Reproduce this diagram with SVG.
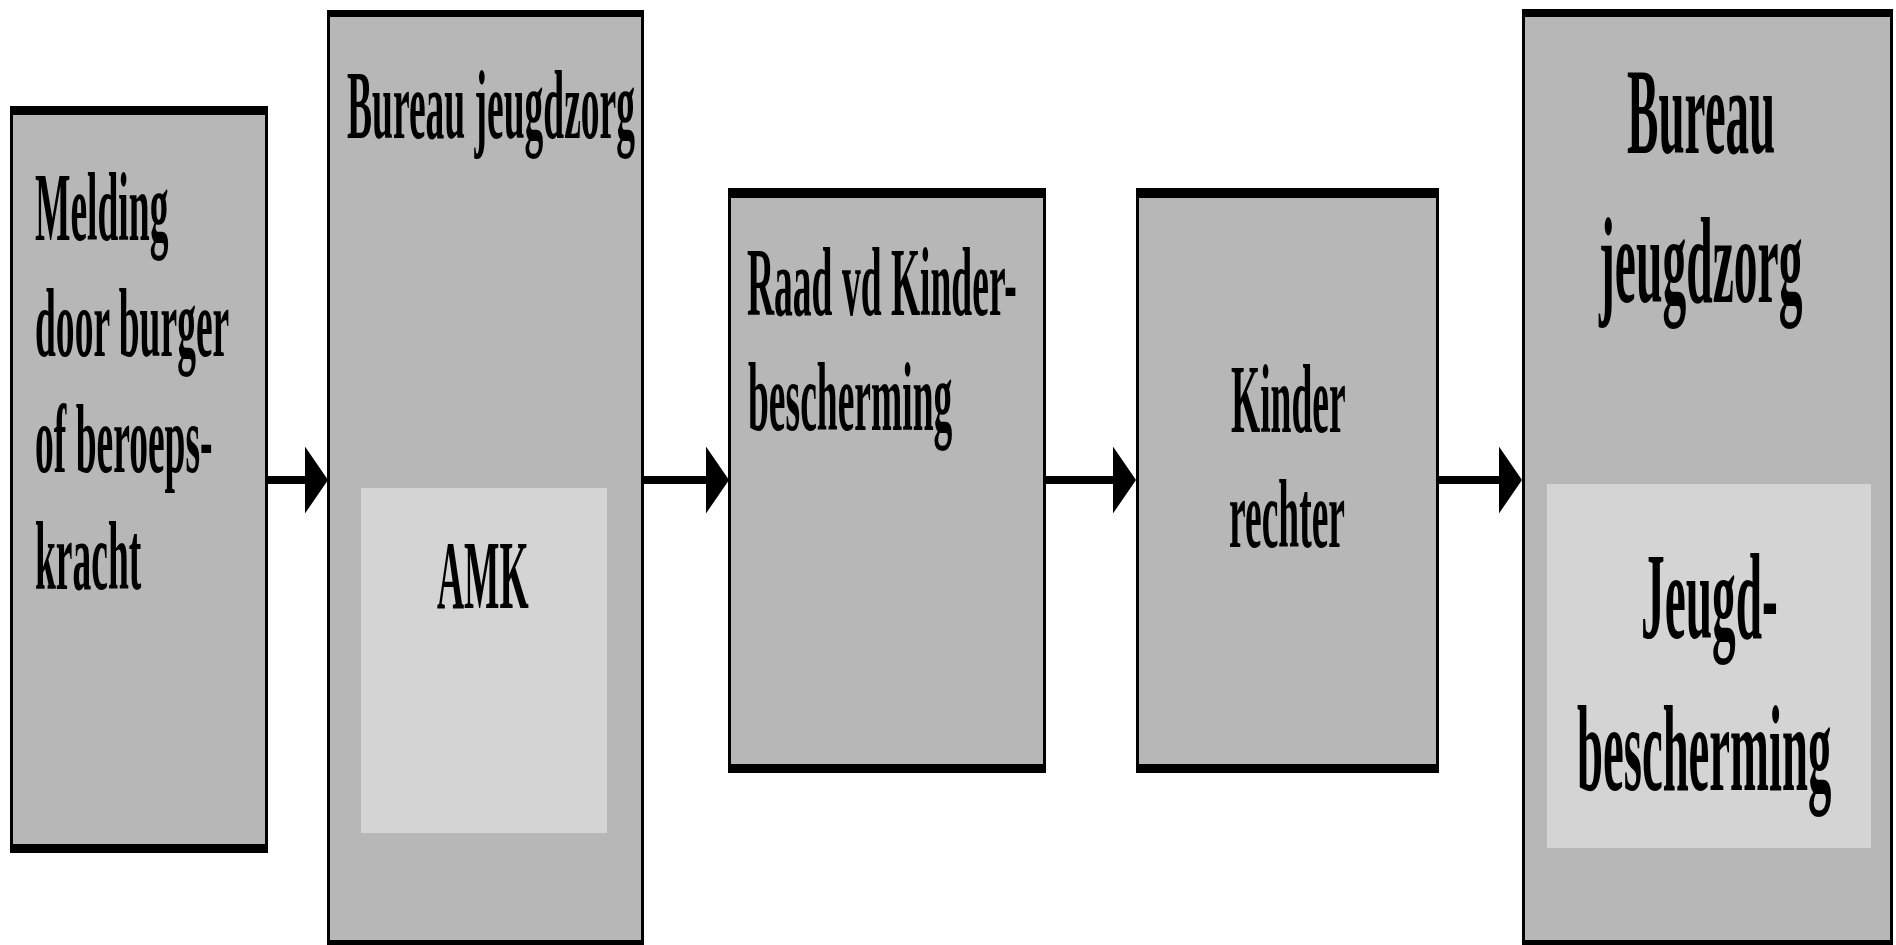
<svg xmlns="http://www.w3.org/2000/svg" width="1896" height="945" viewBox="0 0 1896 945">
<defs>
<style>
.frame{fill:#000}
.body{fill:#b7b7b7}
.inner{fill:#d4d4d4}
.t{font-family:"Liberation Serif","Times New Roman",serif;font-weight:bold;font-size:98px;fill:#000}
.tl{font-size:122px}
.conn{stroke:#000;stroke-width:8;fill:none}
</style>
<marker id="ah" markerUnits="userSpaceOnUse" markerWidth="24" markerHeight="68" refX="0" refY="33.5" orient="auto">
<path d="M0,0 L23,33.5 L0,67 Z" fill="#000"/>
</marker>
</defs>
<rect width="1896" height="945" fill="#fff"/>

<g id="connectors">
<line class="conn" x1="268" y1="480" x2="305" y2="480" marker-end="url(#ah)"/>
<line class="conn" x1="644" y1="480" x2="706" y2="480" marker-end="url(#ah)"/>
<line class="conn" x1="1046" y1="480" x2="1113" y2="480" marker-end="url(#ah)"/>
<line class="conn" x1="1439" y1="480" x2="1499" y2="480" marker-end="url(#ah)"/>
</g>

<g id="melding">
<rect class="frame" x="10" y="106" width="258" height="747"/>
<rect class="body" x="13" y="115" width="252" height="729"/>
<text class="t" transform="translate(35,240) scale(0.383,1)">Melding</text>
<text class="t" transform="translate(35,356) scale(0.383,1)">door burger</text>
<text class="t" transform="translate(35,472) scale(0.383,1)">of beroeps-</text>
<text class="t" transform="translate(35,589) scale(0.383,1)">kracht</text>
</g>

<g id="bureau-jeugdzorg-1">
<rect class="frame" x="327" y="10" width="317" height="940"/>
<rect class="body" x="330" y="17" width="311" height="923"/>
<text class="t" transform="translate(347,138) scale(0.383,1)">Bureau jeugdzorg</text>
<g id="amk">
<rect class="inner" x="361" y="488" width="246" height="345"/>
<text class="t" transform="translate(437,608) scale(0.383,1)">AMK</text>
</g>
</g>

<g id="raad">
<rect class="frame" x="728" y="188" width="318" height="585"/>
<rect class="body" x="731" y="198" width="312" height="566"/>
<text class="t" transform="translate(747,315) scale(0.383,1)">Raad vd Kinder-</text>
<text class="t" transform="translate(748,430) scale(0.383,1)">bescherming</text>
</g>

<g id="kinderrechter">
<rect class="frame" x="1136" y="188" width="303" height="585"/>
<rect class="body" x="1139" y="198" width="297" height="566"/>
<text class="t" transform="translate(1231,432) scale(0.383,1)">Kinder</text>
<text class="t" transform="translate(1229,547) scale(0.383,1)">rechter</text>
</g>

<g id="bureau-jeugdzorg-2">
<rect class="frame" x="1522" y="9" width="371" height="940"/>
<rect class="body" x="1525" y="17" width="365" height="923"/>
<text class="t tl" transform="translate(1627,153) scale(0.386,1)">Bureau</text>
<text class="t tl" transform="translate(1599,302) scale(0.39,1)">jeugdzorg</text>
<g id="jeugdbescherming">
<rect class="inner" x="1547" y="484" width="324" height="364"/>
<text class="t tl" transform="translate(1641,638) scale(0.388,1)">Jeugd-</text>
<text class="t tl" transform="translate(1577,790) scale(0.383,1)">bescherming</text>
</g>
</g>
</svg>
